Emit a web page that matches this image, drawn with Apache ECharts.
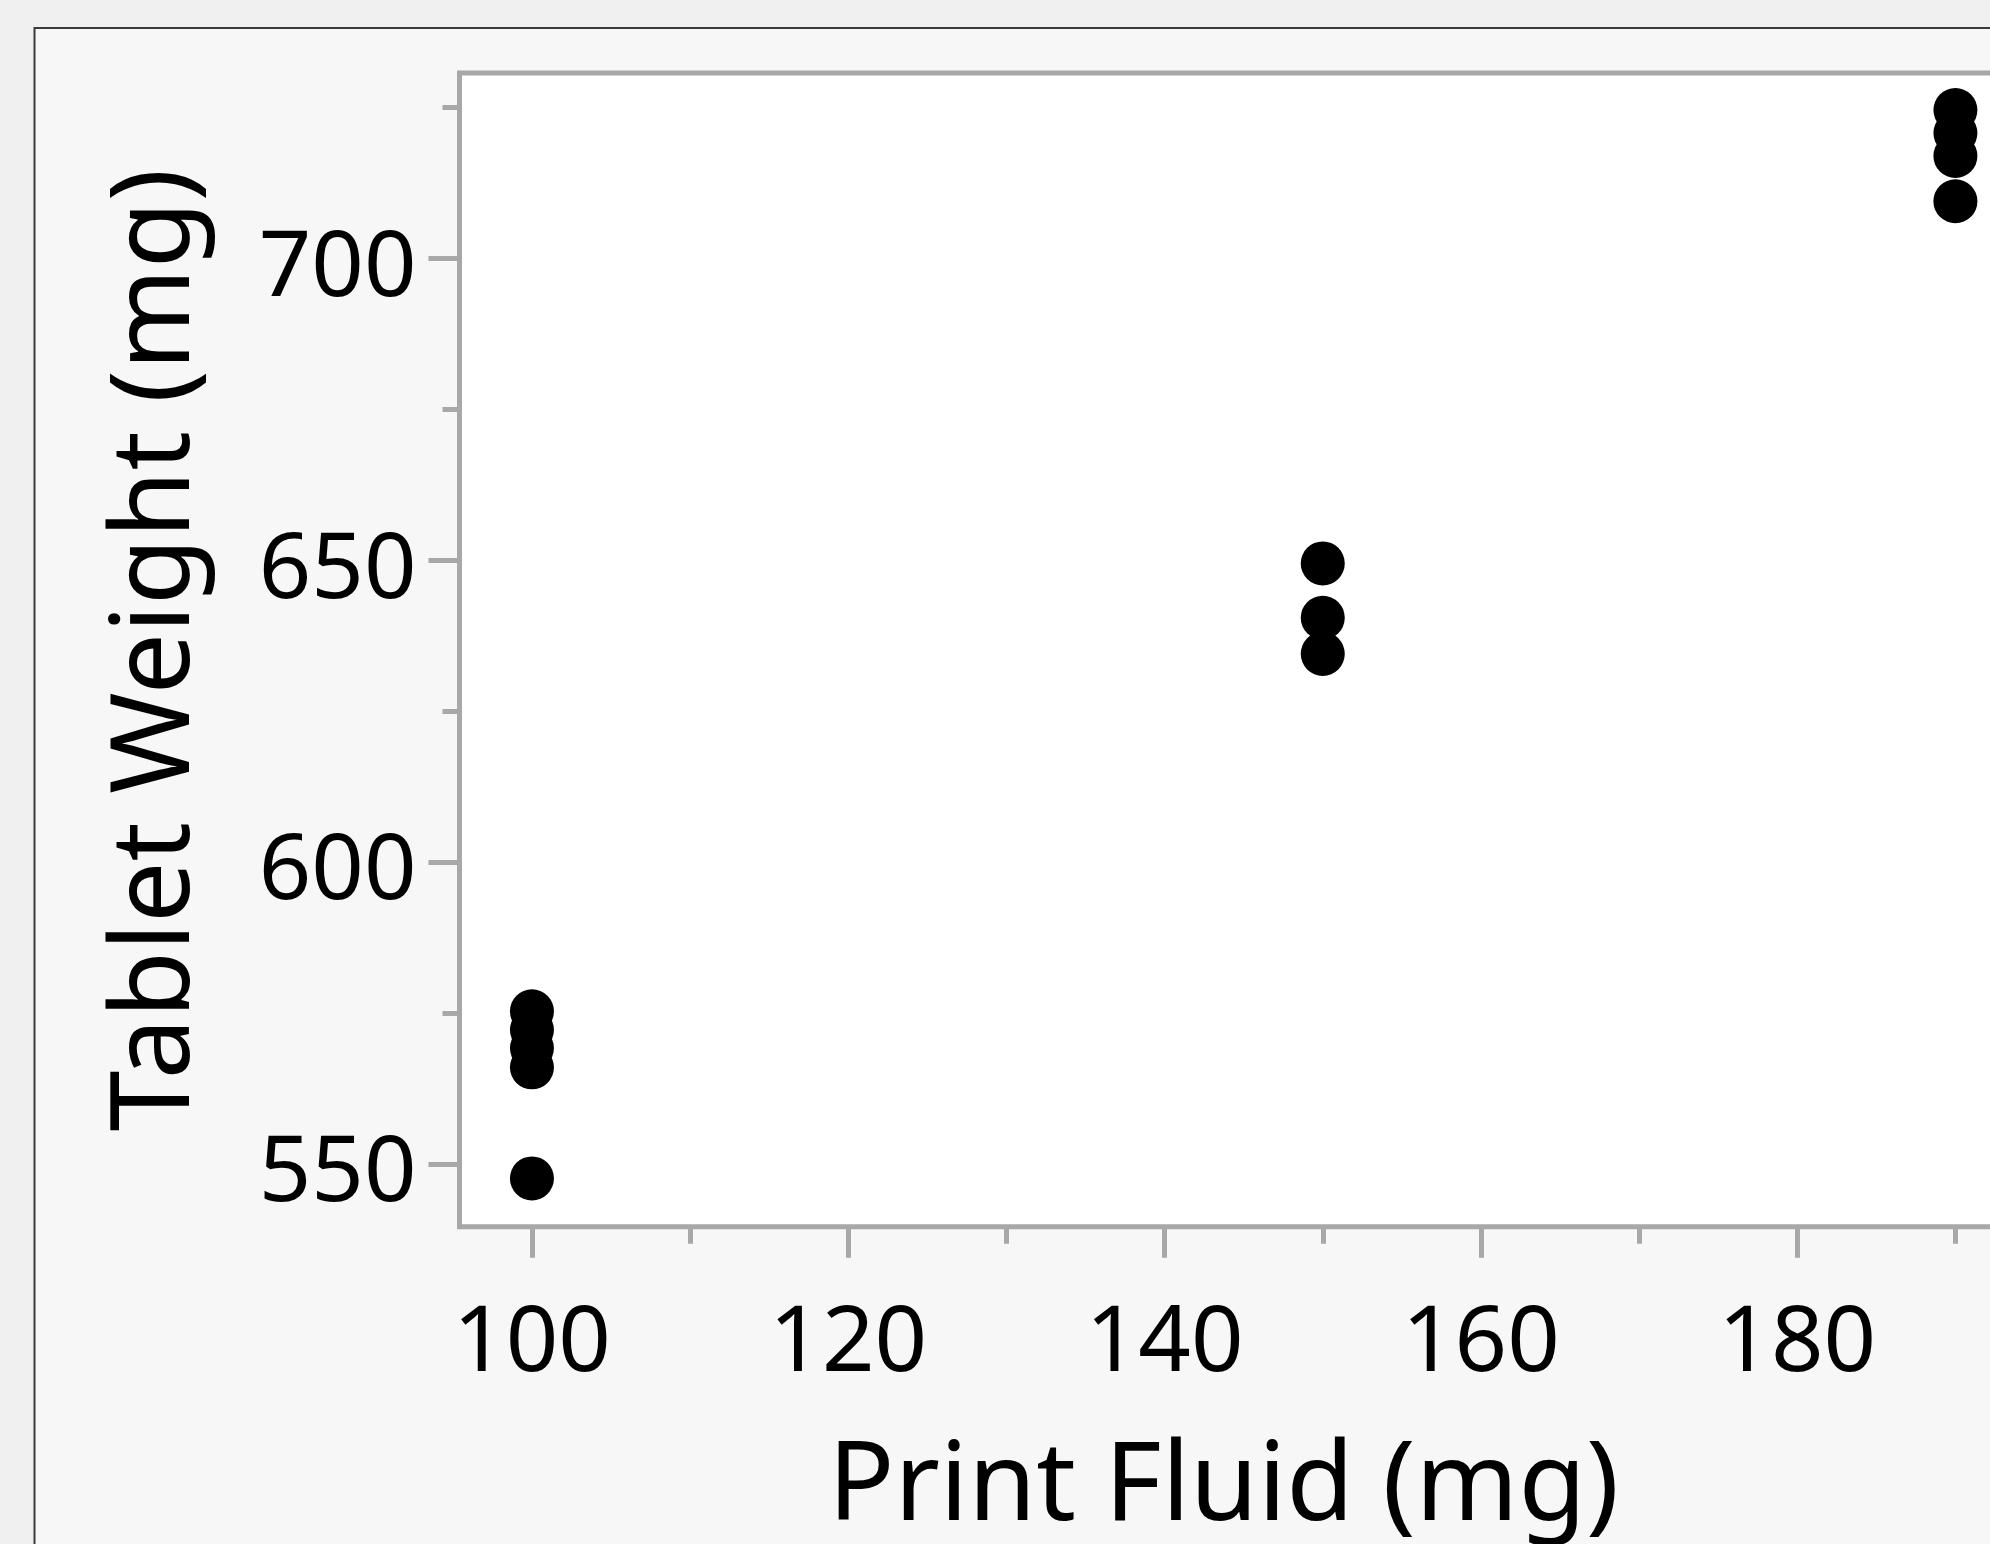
<!DOCTYPE html>
<html>
<head>
<meta charset="utf-8">
<script src="https://cdn.jsdelivr.net/npm/echarts@6/dist/echarts.min.js"></script>
<style>
html,body{margin:0;padding:0;background:#f0f0f0;overflow:hidden;width:1990px;height:1544px;}
#chart{width:2100px;height:1544px;}
</style>
</head>
<body>
<div id="chart"></div>
<script>
// Data
const printFluid = [100, 100, 100, 100, 100, 150, 150, 150, 190, 190, 190, 190];
const tabletWeight = [575.3, 572.2, 569.2, 566.0, 547.6, 649.5, 640.5, 634.5, 724.6, 720.8, 717.0, 709.5];
const xMajorTicks = [100, 120, 140, 160, 180];
const xMinorTicks = [110, 130, 150, 170, 190];
const yMajorTicks = [550, 600, 650, 700];
const yMinorTicks = [575, 625, 675, 725];
const xTitle = 'Print Fluid (mg)';
const yTitle = 'Tablet Weight (mg)';

const points = printFluid.map((x, i) => [x, tabletWeight[i]]);

const X_MIN = 95.42, X_MAX = 195;
const Y_MIN = 539.6, Y_MAX = 730.75;
const FRAME = '#a8a8a8';
const FONT = 'Noto Sans';

const chart = echarts.init(document.getElementById('chart'), null, {renderer: 'canvas'});
chart.setOption({
  animation: false,
  backgroundColor: '#f0f0f0',
  graphic: [{
    type: 'rect', z: -10, silent: true,
    shape: {x: 34.5, y: 28, width: 2200, height: 1700},
    style: {fill: '#f7f7f7', stroke: '#3a3a3a', lineWidth: 2}
  }],
  grid: {
    left: 459.5, top: 73, width: 1575, height: 1153.7,
    show: true, backgroundColor: '#ffffff', borderColor: FRAME, borderWidth: 5,
    containLabel: false, outerBoundsMode: 'none'
  },
  xAxis: [{
    type: 'value', min: X_MIN, max: X_MAX, position: 'bottom',
    axisLine: {show: false},
    splitLine: {show: false},
    axisTick: {show: true, customValues: xMajorTicks, length: 31, lineStyle: {color: FRAME, width: 5}},
    axisLabel: {show: true, customValues: xMajorTicks, margin: 72, fontFamily: FONT, fontSize: 92, color: '#000'},
    name: xTitle, nameLocation: 'middle', nameGap: 207,
    nameTextStyle: {fontFamily: FONT, fontSize: 110, color: '#000', padding: [0, 47, 0, 0]}
  }, {
    type: 'value', min: X_MIN, max: X_MAX, position: 'bottom',
    axisLine: {show: false}, splitLine: {show: false},
    axisTick: {show: true, customValues: xMinorTicks, length: 17, lineStyle: {color: FRAME, width: 5}},
    axisLabel: {show: false}
  }],
  yAxis: [{
    type: 'value', min: Y_MIN, max: Y_MAX, position: 'left',
    axisLine: {show: false},
    splitLine: {show: false},
    axisTick: {show: true, customValues: yMajorTicks, length: 31, lineStyle: {color: FRAME, width: 5}},
    axisLabel: {show: true, customValues: yMajorTicks, margin: 43, verticalAlign: 'top', lineHeight: 22, fontFamily: FONT, fontSize: 92, color: '#000'},
    name: yTitle, nameLocation: 'middle', nameGap: 247, nameRotate: 90,
    nameTextStyle: {fontFamily: FONT, fontSize: 109, color: '#000'}
  }, {
    type: 'value', min: Y_MIN, max: Y_MAX, position: 'left',
    axisLine: {show: false}, splitLine: {show: false},
    axisTick: {show: true, customValues: yMinorTicks, length: 17, lineStyle: {color: FRAME, width: 5}},
    axisLabel: {show: false}
  }],
  series: [{
    type: 'scatter', xAxisIndex: 0, yAxisIndex: 0,
    data: points, symbol: 'circle', symbolSize: 44,
    itemStyle: {color: '#000000', opacity: 1}
  }]
});
</script>
</body>
</html>
